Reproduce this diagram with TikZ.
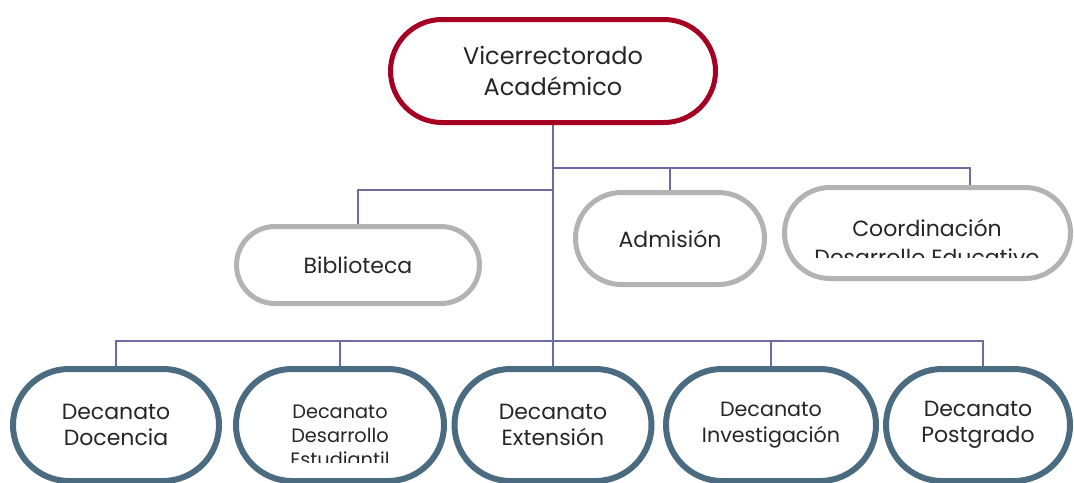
\documentclass[tikz,border=0pt]{standalone}
\usepackage{fontspec}
\setmainfont{Poppins}
\usepackage{tikz}
\usetikzlibrary{shapes.misc}
\definecolor{vraRed}{HTML}{A50021}
\definecolor{boxGray}{HTML}{B3B3B3}
\definecolor{deanBlue}{HTML}{4B6C80}
\definecolor{linkLine}{HTML}{6C6CA3}

\begin{document}
\begin{tikzpicture}[x=0.75pt, y=-0.75pt,
    every node/.style={rounded rectangle, align=center, inner sep=0pt, text=black!85},
    head/.style={draw=vraRed, line width=3.75pt, minimum width=243.75pt, minimum height=77.25pt, font=\fontsize{18}{23}\selectfont},
    unit/.style={draw=boxGray, line width=3.75pt, font=\fontsize{16.5}{21.75}\selectfont},
    dean/.style={draw=deanBlue, line width=4.5pt, minimum height=84pt, font=\fontsize{16.5}{19.5}\selectfont},
    label/.style={rectangle, draw=none},
    link/.style={draw=linkLine, line width=1.3pt}]
    \useasboundingbox (0,0) rectangle (1074,482);
    \clip (0,0) rectangle (1074,482);

    \node[head] (vra) at (553, 71) {Vicerrectorado\\Académico};

    \node[unit, minimum width=182.25pt, minimum height=57.75pt] (bib) at (358, 265) {Biblioteca};
    \node[unit, minimum width=141.75pt, minimum height=69pt] (adm) at (670, 238.5) {Admisión};
    \node[unit, minimum width=214.5pt, minimum height=68.25pt] (coord) at (927.5, 233) {};

    \node[dean, minimum width=154.5pt] (doc) at (116, 425) {Decanato\\Docencia};
    \node[dean, minimum width=156pt] (est) at (340, 425) {};
    \node[dean, minimum width=147.75pt] (ext) at (553, 425) {Decanato\\Extensión};
    \node[dean, minimum width=157.5pt, font=\fontsize{15.5}{19.5}\selectfont] (inv) at (771, 425) {Decanato\\Investigación};
    \node[dean, minimum width=138pt] (pos) at (978, 425) {Decanato\\Postgrado};

    \begin{scope}
        \clip (780,180) rectangle (1074,257);
        \node[label, font=\fontsize{16.5}{21.75}\selectfont] (coordtext) at (927, 242) {Coordinación\\Desarrollo Educativo};
    \end{scope}
    \begin{scope}
        \clip (233,380) rectangle (447,462);
        \node[label, font=\fontsize{14.5}{18}\selectfont] (esttext) at (340, 436) {Decanato\\Desarrollo\\Estudiantil};
    \end{scope}

    \coordinate (busA) at (553, 168);
    \coordinate (busB) at (553, 190);
    \coordinate (busC) at (553, 341);

    \draw[link] (vra) -- (busC);
    \draw[link] (busA) -| (adm.north);
    \draw[link] (busA) -| ([xshift=32pt]coord.north);
    \draw[link] (busB) -| (bib.north);
    \draw[link] (busC) -| (doc.north);
    \draw[link] (busC) -| (est.north);
    \draw[link] (busC) -- (ext.north);
    \draw[link] (busC) -| (inv.north);
    \draw[link] (busC) -| ([xshift=3.75pt]pos.north);
\end{tikzpicture}
\end{document}
